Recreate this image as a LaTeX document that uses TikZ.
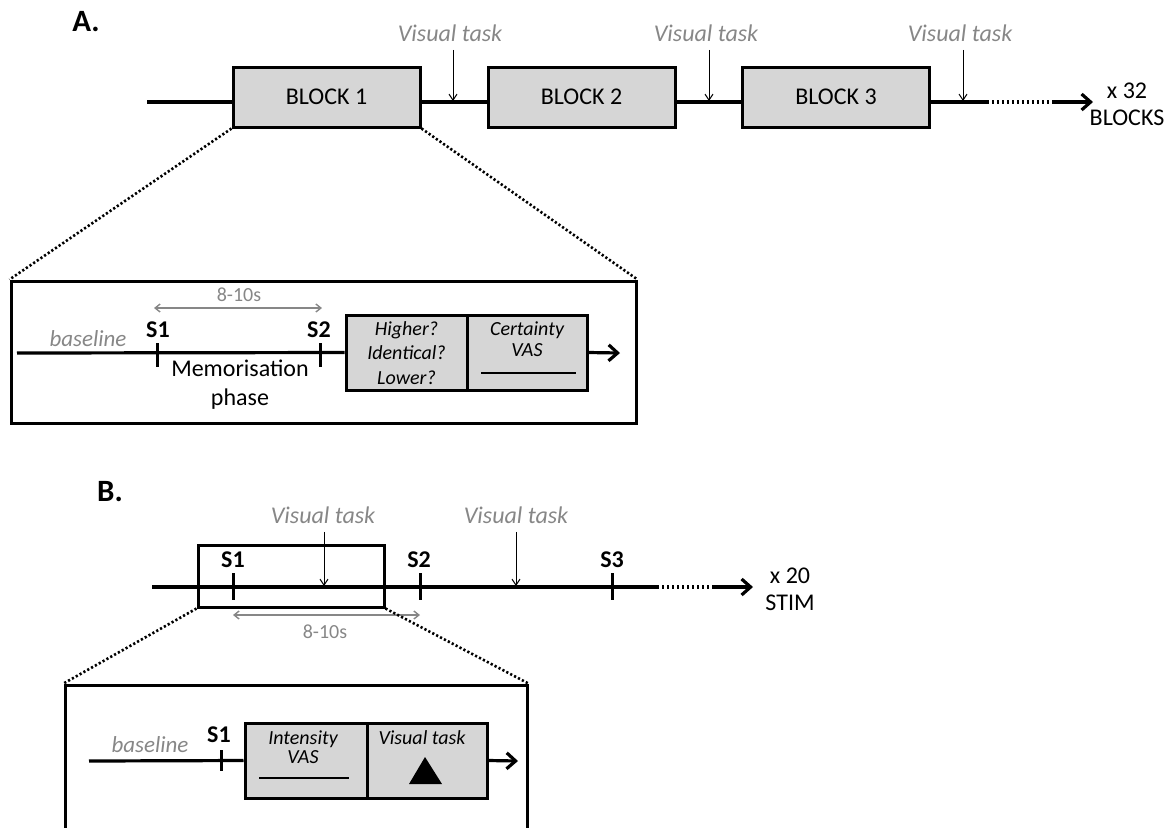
\documentclass[tikz,border=0pt]{standalone}
\usepackage{fontspec}
\setmainfont{Carlito}
\usepackage{tikz}
\usetikzlibrary{positioning}
\usetikzlibrary{arrows.meta}

\definecolor{boxgray}{RGB}{214,214,214}
\definecolor{labelgray}{RGB}{135,135,135}

\tikzset{
  block/.style={draw, line width=1.5pt, fill=boxgray, inner sep=0pt,
    minimum width=93.5pt, minimum height=30pt, font=\fontsize{12}{14}\selectfont},
  panel/.style={draw, line width=1.5pt, fill=boxgray, inner sep=0pt, minimum height=37.5pt},
  frame/.style={draw, line width=1.5pt, inner sep=0pt},
  tline/.style={line width=1.6pt},
  tarrow/.style={tline, -{Straight Barb[length=4.5pt,width=8pt]}},
  dots/.style={line width=1.6pt, dash pattern=on 1.2pt off 1.3pt},
  zoomline/.style={line width=1.3pt, dash pattern=on 1.1pt off 1.1pt},
  vtask/.style={text=labelgray, inner sep=0pt, font=\itshape\fontsize{12}{14}\selectfont},
  vtarrow/.style={line width=0.5pt, shorten <=4pt, -{Straight Barb[length=3pt,width=4pt]}},
  tick/.style={line width=1.5pt},
  stim/.style={inner sep=0pt, font=\bfseries\fontsize{12}{14}\selectfont},
  heading/.style={inner sep=0pt, font=\bfseries\fontsize{15.5}{17}\selectfont},
  span/.style={labelgray, line width=0.7pt,
    {Straight Barb[length=2.5pt,width=4pt]}-{Straight Barb[length=2.5pt,width=4pt]}},
  spanlabel/.style={text=labelgray, inner sep=0pt, font=\fontsize{10}{12}\selectfont},
  base/.style={text=labelgray, inner sep=0pt, font=\itshape\fontsize{11.5}{13}\selectfont},
  count/.style={inner sep=0pt, align=center, font=\fontsize{12}{14}\selectfont},
  question/.style={inner sep=0pt, align=center, font=\itshape\fontsize{10}{12}\selectfont},
}

\begin{document}
\begin{tikzpicture}[x=0.5pt,y=-0.5pt]
   \path[use as bounding box] (0,0) rectangle (1168,827);
   \clip (0,0) rectangle (1168,827);

   % A. blocks
   \node[heading] (labA) at (86,22) {A.};
   \node[block] (b1) at (326.5,97) {BLOCK 1};
   \node[block] (b2) at (581.5,97) {BLOCK 2};
   \node[block] (b3) at (836,97) {BLOCK 3};
   \coordinate (a0) at (147,102);
   \coordinate (t1) at (453,101);
   \coordinate (t2) at (709,101);
   \coordinate (t3) at (963,101);
   \coordinate (d1) at (987,102);
   \coordinate (d2) at (1052,102);
   \coordinate (aend) at (1093,102);
   \draw[tline] (a0) -- (a0 -| b1.west)
     (b1.east |- a0) -- (b2.west |- a0)
     (b2.east |- a0) -- (b3.west |- a0)
     (b3.east |- a0) -- (d1);
   \draw[dots] (d1) -- (d2);
   \draw[tarrow] (d2) -- (aend);
   \node[count] (nblocks) at (1127,104) {x 32\\[-0.6pt]BLOCKS};
   \node[vtask] (vt1) at (450,33) {Visual task};
   \node[vtask] (vt2) at (706,33) {Visual task};
   \node[vtask] (vt3) at (960,33) {Visual task};
   \draw[vtarrow] (vt1.south -| t1) -- (t1);
   \draw[vtarrow] (vt2.south -| t2) -- (t2);
   \draw[vtarrow] (vt3.south -| t3) -- (t3);

   % A. zoom on one block
   \node[frame, minimum width=312.5pt, minimum height=71pt] (boxA) at (323.5,352) {};
   \draw[zoomline] (b1.south west) -- (boxA.north west)
     (b1.south east) -- (boxA.north east);
   \node[panel, minimum width=60.5pt] (q1) at (406.5,352.5) {};
   \node[panel, minimum width=60pt] (q2) at (527,352.5) {};
   \coordinate (i0) at (17,353);
   \coordinate (iend) at (620,353);
   \coordinate (s1) at (157,353);
   \coordinate (s2) at (320,353);
   \draw[tline] (i0) -- (q1.west);
   \draw[tarrow] (q2.east) -- (iend);
   \draw[tick] ([yshift=5pt]s1) -- ([yshift=-7pt]s1)
     ([yshift=5pt]s2) -- ([yshift=-7pt]s2);
   \node[stim] (ls1) at (158,330) {S1};
   \node[stim] (ls2) at (319,330) {S2};
   \node[base] (baseA) at (88,339) {baseline};
   \coordinate (sp1) at (154,308);
   \coordinate (sp2) at (322,308);
   \draw[span] (sp1) -- (sp2);
   \node[spanlabel] (spA) at (239,295) {8-10s};
   \node[count] (memo) at (240,385) {Memorisation\\[0.4pt]phase};
   \node[question, font=\itshape\fontsize{10}{12.2}\selectfont] (ask) at (406.5,353) {Higher?\\Identical?\\Lower?};
   \node[question, font=\itshape\fontsize{10}{10.6}\selectfont] (cert) at (527,339.5) {Certainty\\VAS};
   \draw[line width=0.6pt] (481,373) -- (576,373);

   % B. stimuli
   \node[heading] (labB) at (110,492) {B.};
   \coordinate (c0) at (152,587);
   \coordinate (d3) at (657,587);
   \coordinate (d4) at (713,587);
   \coordinate (bend) at (753,587);
   \coordinate (u1) at (233,587);
   \coordinate (u2) at (420,587);
   \coordinate (u3) at (612,587);
   \coordinate (w1) at (324,586);
   \coordinate (w2) at (516,586);
   \draw[tline] (c0) -- (d3);
   \draw[dots] (d3) -- (d4);
   \draw[tarrow] (d4) -- (bend);
   \node[frame, minimum width=93pt, minimum height=31pt] (win) at (291,576) {};
   \draw[tick] ([yshift=7pt]u1) -- ([yshift=-6.5pt]u1)
     ([yshift=7pt]u2) -- ([yshift=-6.5pt]u2)
     ([yshift=7pt]u3) -- ([yshift=-6.5pt]u3);
   \node[stim] (lu1) at (233,560) {S1};
   \node[stim] (lu2) at (419,560) {S2};
   \node[stim] (lu3) at (612,560) {S3};
   \node[vtask] (vt4) at (323,515) {Visual task};
   \node[vtask] (vt5) at (516,515) {Visual task};
   \draw[vtarrow] (vt4.south -| w1) -- (w1);
   \draw[vtarrow] (vt5.south -| w2) -- (w2);
   \coordinate (sp3) at (233,615);
   \coordinate (sp4) at (420,615);
   \draw[span] (sp3) -- (sp4);
   \node[spanlabel] (spB) at (325,632) {8-10s};
   \node[count] (nstim) at (790,589) {x 20\\[-0.6pt]STIM};

   % B. zoom on one stimulus
   \node[frame, minimum width=231pt, minimum height=100pt] (boxB) at (296,785) {};
   \draw[zoomline] (win.south west) -- (boxB.north west)
     (win.south east) -- (boxB.north east);
   \node[panel, minimum width=61pt] (r1) at (306,760.5) {};
   \node[panel, minimum width=60pt] (r2) at (427,760.5) {};
   \coordinate (k0) at (89,761);
   \coordinate (kend) at (518,761);
   \coordinate (v1) at (221,761);
   \draw[tline] (k0) -- (r1.west);
   \draw[tarrow] (r2.east) -- (kend);
   \draw[tick] ([yshift=5.5pt]v1) -- ([yshift=-5pt]v1);
   \node[stim] (lv1) at (219,735) {S1};
   \node[base] (baseB) at (150,745) {baseline};
   \node[question, font=\itshape\fontsize{10}{9.6}\selectfont] (inten) at (303,747.5) {Intensity\\VAS};
   \draw[line width=0.6pt] (259,778) -- (349,778);
   \node[question] (vtB) at (422,738) {Visual task};
   \fill (425,757) -- (409,784) -- (442,784) -- cycle;
\end{tikzpicture}
\end{document}
